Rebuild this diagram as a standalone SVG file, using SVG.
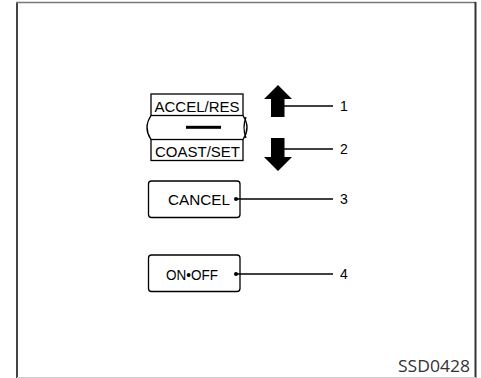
<svg xmlns="http://www.w3.org/2000/svg" width="481" height="378" viewBox="0 0 481 378">
<style>
.box{fill:none;stroke:#000;stroke-width:1.3}
.lead{fill:none;stroke:#000;stroke-width:1.4}
.t{font-family:"Liberation Sans",Arial,sans-serif;fill:#000}
.num{font-family:"Liberation Sans",Arial,sans-serif;font-size:14px;fill:#000}
.arrow{fill:#000}
</style>
<rect width="481" height="378" fill="#fff"/>
<g id="frame">
<line x1="17" y1="2" x2="17" y2="378" stroke="#444" stroke-width="2"/>
<line x1="16" y1="2.5" x2="476" y2="2.5" stroke="#777" stroke-width="1.5"/>
<line x1="475.5" y1="2" x2="475.5" y2="378" stroke="#333" stroke-width="2"/>
<line x1="17" y1="377.5" x2="476" y2="377.5" stroke="#ccc" stroke-width="1"/>
</g>
<g id="switch">
<rect class="box" x="151" y="94" width="92" height="21.5"/>
<path class="box" d="M151,115.5 Q143,127.5 151,139.5 M243,115.5 Q251,127.5 243,139.5 M246,117 Q242,127.5 246,138"/>
<rect class="box" x="151" y="139.5" width="92" height="21"/>
<rect x="186" y="125.8" width="35" height="3" fill="#000"/>
<text class="t" x="197" y="111.5" font-size="15" text-anchor="middle" textLength="85" lengthAdjust="spacingAndGlyphs">ACCEL/RES</text>
<text class="t" x="197.5" y="156.5" font-size="15" text-anchor="middle" textLength="85" lengthAdjust="spacingAndGlyphs">COAST/SET</text>
</g>
<g id="arrow1">
<path class="arrow" d="M278,85 L292,99 L284.5,99 L284.5,117 L271,117 L271,99 L264,99 Z"/>
<text class="num" x="340" y="111">1</text>
</g>
<g id="arrow2">
<path class="arrow" d="M278,171 L292,157 L284.5,157 L284.5,138 L271,138 L271,157 L264,157 Z"/>
<text class="num" x="340" y="154">2</text>
</g>
<g id="cancel">
<rect class="box" x="148.5" y="181" width="91.5" height="36.5" rx="3"/>
<text class="t" x="168" y="205" font-size="14" textLength="62" lengthAdjust="spacingAndGlyphs">CANCEL</text>
<circle cx="236" cy="199" r="2"/>
<text class="num" x="340" y="204">3</text>
</g>
<g id="onoff">
<rect class="box" x="148.5" y="255" width="91.5" height="36.5" rx="3"/>
<text class="t" x="166" y="279.5" font-size="14" textLength="52" lengthAdjust="spacingAndGlyphs">ON•OFF</text>
<circle cx="236" cy="274" r="2"/>
<text class="num" x="340" y="279">4</text>
</g>
<g id="connectors">
<line class="lead" x1="284" y1="106" x2="333" y2="106"/>
<line class="lead" x1="284" y1="149" x2="333" y2="149"/>
<line class="lead" x1="236" y1="199" x2="333" y2="199"/>
<line class="lead" x1="236" y1="274" x2="333" y2="274"/>
</g>
<text x="470" y="371.5" font-family="'Open Sans','DejaVu Sans',sans-serif" font-size="16" fill="#333" text-anchor="end" textLength="72" lengthAdjust="spacingAndGlyphs">SSD0428</text>
</svg>
